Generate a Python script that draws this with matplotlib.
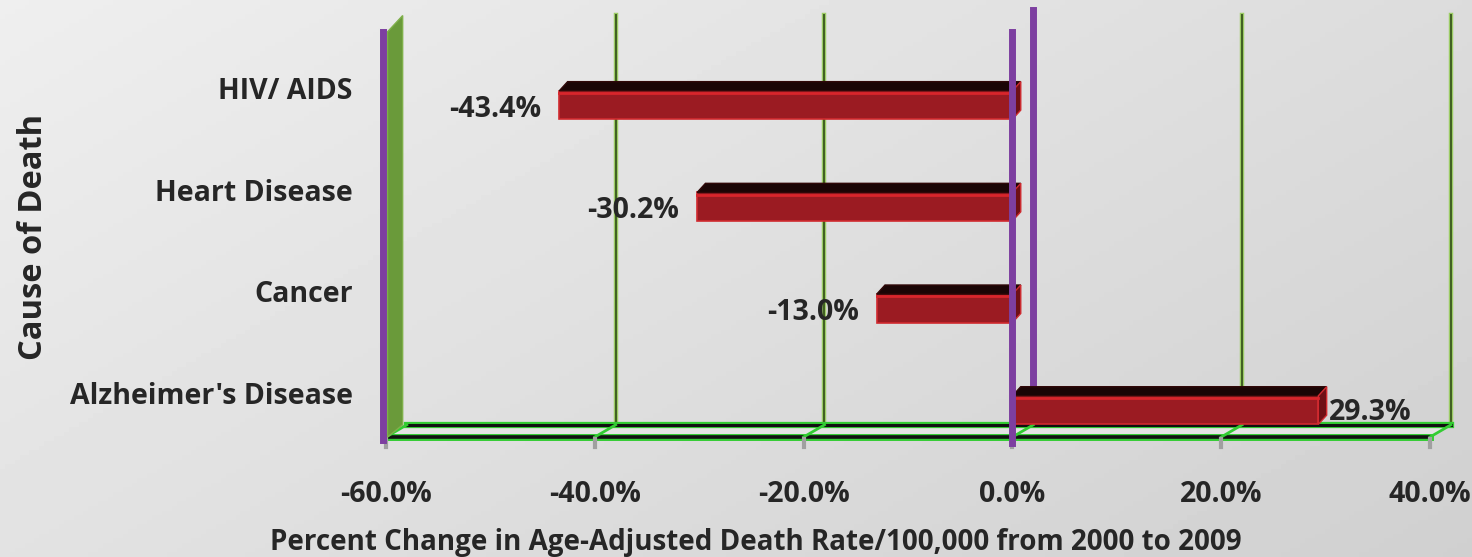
import numpy as np
import matplotlib.pyplot as plt
from matplotlib.patches import Polygon
import matplotlib.transforms as mtransforms

plt.rcParams['font.family'] = ['Open Sans', 'DejaVu Sans']

# data
causes = ["Alzheimer's Disease", "Cancer", "Heart Disease", "HIV/ AIDS"]
changes = [29.3, -13.0, -30.2, -43.4]
xticks = [-60, -40, -20, 0, 20, 40]

# styles
DX, DY = 0.8, 0.09          # bar depth
GX, GY = 2.0, 0.12          # wall/floor depth
BAR_H = 0.28
YMIN, YMAX = -0.265, 3.885
TXT = '#262626'

fig = plt.figure(figsize=(14.72, 5.57), dpi=100)

# gradient background
bg = fig.add_axes([0, 0, 1, 1], zorder=-5)
gx, gy = np.meshgrid(np.linspace(0, 1, 300), np.linspace(0, 1, 120))
g = 0.935 - 0.12 * (0.6 * gx + 0.4 * gy)
bg.imshow(g, cmap='gray', vmin=0, vmax=1, aspect='auto', extent=[0, 1, 0, 1])
bg.axis('off')

ax = fig.add_axes([0.2622, 0.2154, 0.7093, 0.7576])
ax.patch.set_alpha(0)
ax.set_xlim(-60, 40)
ax.set_ylim(YMIN, YMAX)
for sp in ax.spines.values():
    sp.set_visible(False)

yb = YMIN + GY  # back floor level
# back gridlines
for t in xticks[1:]:
    if t == 0:
        continue
    ax.plot([t + GX, t + GX], [yb, YMAX], color='#9ccc65', lw=3.2, clip_on=False, zorder=1)
    ax.plot([t + GX, t + GX], [yb, YMAX], color='#3f5f22', lw=1.4, clip_on=False, zorder=1)

# floor
ax.add_patch(Polygon([[-60, YMIN], [40, YMIN], [40 + GX, yb], [-60 + GX, yb]],
                     closed=True, facecolor='#e4e4e4', edgecolor='none', clip_on=False, zorder=1))
ax.plot([-60 + GX, 40 + GX], [yb, yb], color='#33cc33', lw=4.5, clip_on=False, zorder=2)
ax.plot([-60 + GX, 40 + GX], [yb, yb], color='#111111', lw=2.2, clip_on=False, zorder=2)
ax.plot([-60, 40], [YMIN, YMIN], color='#33cc33', lw=5, clip_on=False, zorder=2)
ax.plot([-60, 40], [YMIN, YMIN], color='#111111', lw=2.6, clip_on=False, zorder=2)
for t in xticks:
    ax.plot([t, t + GX], [YMIN, yb], color='#33cc33', lw=2, clip_on=False, zorder=2)
    ax.plot([t, t], [YMIN - 0.02, YMIN - 0.1], color='#a0a0a0', lw=3, clip_on=False, zorder=2)

# left wall
ax.add_patch(Polygon([[-59.85, YMIN], [-59.85, 3.72], [-58.4, 3.88], [-58.4, yb]],
                     closed=True, facecolor='#6a9a3a', edgecolor='#7fb04a', lw=1, clip_on=False, zorder=2))
ax.plot([-60.3, -60.3], [YMIN - 0.03, 3.72], color='#7d3fa0', lw=5, clip_on=False, zorder=3)

# zero planes
ax.plot([0 + GX, 0 + GX], [yb + 0.15, YMAX + 0.05], color='#7d3fa0', lw=5, clip_on=False, zorder=2)
ax.plot([0, 0], [YMIN - 0.06, 3.72], color='#7d3fa0', lw=5, clip_on=False, zorder=5)

# bars
y = np.arange(len(causes))
ax.barh(y, changes, height=BAR_H, color='#9b1b22', edgecolor='#d02a2f', lw=1.2, zorder=4)
for yi, v in zip(y, changes):
    top = yi + BAR_H / 2
    lo, hi = min(0, v), max(0, v)
    ax.add_patch(Polygon([[lo, top], [lo + DX, top + DY], [hi + DX, top + DY], [hi, top]],
                         closed=True, facecolor='#1a0505', edgecolor='#300808', lw=1, zorder=4))
    ax.add_patch(Polygon([[hi, top], [hi + DX, top + DY], [hi + DX, top + DY - BAR_H], [hi, top - BAR_H]],
                         closed=True, facecolor='#6e1015', edgecolor='#d02a2f', lw=1, zorder=4))
    ax.plot([lo, hi], [top - 0.02, top - 0.02], color='#d8262c', lw=2, zorder=4)
    if v < 0:
        ax.text(v - 1.7, yi - 0.04, '%.1f%%' % v, ha='right', va='center',
                fontsize=20.5, fontweight='bold', color=TXT, zorder=6)
    else:
        ax.text(v + DX + 0.2, yi - 0.02, '%.1f%%' % v, ha='left', va='center',
                fontsize=20.5, fontweight='bold', color=TXT, zorder=6)

# ticks
ax.set_xticks(xticks)
ax.set_xticklabels(['%.1f%%' % t for t in xticks], fontsize=20.5, fontweight='bold', color=TXT)
ax.tick_params(axis='x', length=0, pad=31)
ax.set_yticks(y)
ax.set_yticklabels(causes, fontsize=20.5, fontweight='bold', color=TXT)
ax.tick_params(axis='y', length=0, pad=24)
off = mtransforms.ScaledTranslation(0, 0.17, fig.dpi_scale_trans)
for lab in ax.get_yticklabels():
    lab.set_transform(lab.get_transform() + off)

fig.text(0.5136, 0.026, 'Percent Change in Age-Adjusted Death Rate/100,000 from 2000 to 2009',
         ha='center', va='center', fontsize=20, fontweight='bold', color=TXT)
fig.text(0.0225, 0.5745, 'Cause of Death', rotation=90, ha='center', va='center',
         fontsize=23.5, fontweight='bold', color=TXT)

fig.savefig('out.png', dpi=100)
